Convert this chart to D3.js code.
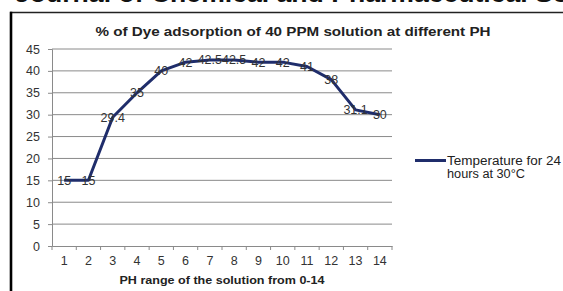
<!DOCTYPE html>
<html><head><meta charset="utf-8">
<script src="https://cdn.jsdelivr.net/npm/d3@7"></script>
<style>body{margin:0;background:#fff}svg{display:block}</style>
</head><body>
<script>
const categories = ["1","2","3","4","5","6","7","8","9","10","11","12","13","14"];
const values = [15,15,29.4,35,40,42,42.5,42.5,42,42,41,38,31.1,30];
const labels = ["15","15","29.4","35","40","42","42.5","42.5","42","42","41","38","31.1","30"];
const yTicks = [0,5,10,15,20,25,30,35,40,45];
const chartTitle = "% of Dye adsorption of 40 PPM solution at different PH";
const xTitle = "PH range of the solution from 0-14";
const seriesName = ["Temperature for 24", "hours at 30°C"];
const header = "Journal of Chemical and Pharmaceutical Sci";

const W = 563, H = 291;
const font = "'Liberation Sans', Arial, sans-serif";
const svg = d3.select("body").append("svg").attr("width", W).attr("height", H);

// header (cut off at the top edge, as in the reference)
svg.append("text").attr("x", 15).attr("y", 2)
  .attr("font-family", font).attr("font-weight", "bold").attr("font-size", 24)
  .attr("textLength", 560).attr("lengthAdjust", "spacingAndGlyphs")
  .attr("fill", "#111").text(header);

// frame
svg.append("line").attr("x1", 10).attr("x2", W).attr("y1", 12.5).attr("y2", 12.5)
  .attr("stroke", "#222").attr("stroke-width", 1.6);
svg.append("line").attr("x1", 11).attr("x2", 11).attr("y1", 11.7).attr("y2", H)
  .attr("stroke", "#000").attr("stroke-width", 2.6);

const L = 52, R = 392, T = 49, B = 246;
const x = d3.scaleBand().domain(categories).range([L, R]);
const y = d3.scaleLinear().domain([0, 45]).range([B, T]);

// gridlines
svg.append("g").selectAll("line").data(yTicks.filter(d => d > 0)).join("line")
  .attr("x1", L).attr("x2", R).attr("y1", d => y(d)).attr("y2", d => y(d))
  .attr("stroke", "#8a8a8a").attr("stroke-width", 1);

// y axis
const ya = svg.append("g").attr("transform", `translate(${L},0)`)
  .call(d3.axisLeft(y).tickValues(yTicks).tickSize(4).tickPadding(8));
ya.select(".domain").attr("stroke", "#8a8a8a");
ya.selectAll(".tick line").attr("stroke", "#8a8a8a");
ya.selectAll("text").attr("font-family", font).attr("font-size", 12.5).attr("fill", "#333");

// x axis
const xa = svg.append("g").attr("transform", `translate(0,${B})`)
  .call(d3.axisBottom(x).tickSize(0).tickPadding(10));
xa.select(".domain").attr("stroke", "#8a8a8a");
xa.selectAll("text").attr("font-family", font).attr("font-size", 12.5).attr("fill", "#333");
svg.append("g").selectAll("line").data(categories.concat(["end"])).join("line")
  .attr("x1", (d, i) => L + i * x.step()).attr("x2", (d, i) => L + i * x.step())
  .attr("y1", B).attr("y2", B + 4).attr("stroke", "#8a8a8a");

// line
const line = d3.line().x((d, i) => x(categories[i]) + x.bandwidth() / 2).y(d => y(d));
svg.append("path").datum(values).attr("d", line)
  .attr("fill", "none").attr("stroke", "#1f2d6b").attr("stroke-width", 3)
  .attr("stroke-linejoin", "round");

// data labels
svg.append("g").selectAll("text").data(values).join("text")
  .attr("x", (d, i) => x(categories[i]) + x.bandwidth() / 2)
  .attr("y", d => y(d)).attr("dy", "0.35em").attr("text-anchor", "middle")
  .attr("font-family", font).attr("font-size", 12.5).attr("fill", "#333")
  .text((d, i) => labels[i]);

// titles
svg.append("text").attr("x", 293).attr("y", 36).attr("text-anchor", "middle")
  .attr("font-family", font).attr("font-weight", "bold").attr("font-size", 13)
  .attr("textLength", 395).attr("lengthAdjust", "spacingAndGlyphs")
  .attr("fill", "#222").text(chartTitle);
svg.append("text").attr("x", 222).attr("y", 284).attr("text-anchor", "middle")
  .attr("font-family", font).attr("font-weight", "bold").attr("font-size", 11.5)
  .attr("textLength", 205).attr("lengthAdjust", "spacingAndGlyphs")
  .attr("fill", "#222").text(xTitle);

// legend
svg.append("line").attr("x1", 415).attr("x2", 446).attr("y1", 160.5).attr("y2", 160.5)
  .attr("stroke", "#1f2d6b").attr("stroke-width", 3);
const legLen = [114, 78];
svg.append("g").selectAll("text").data(seriesName).join("text")
  .attr("font-family", font).attr("font-size", 12.5).attr("fill", "#222")
  .attr("x", 447).attr("y", (d, i) => 165 + i * 13)
  .attr("textLength", (d, i) => legLen[i]).attr("lengthAdjust", "spacingAndGlyphs")
  .text(d => d);
</script>
</body></html>
